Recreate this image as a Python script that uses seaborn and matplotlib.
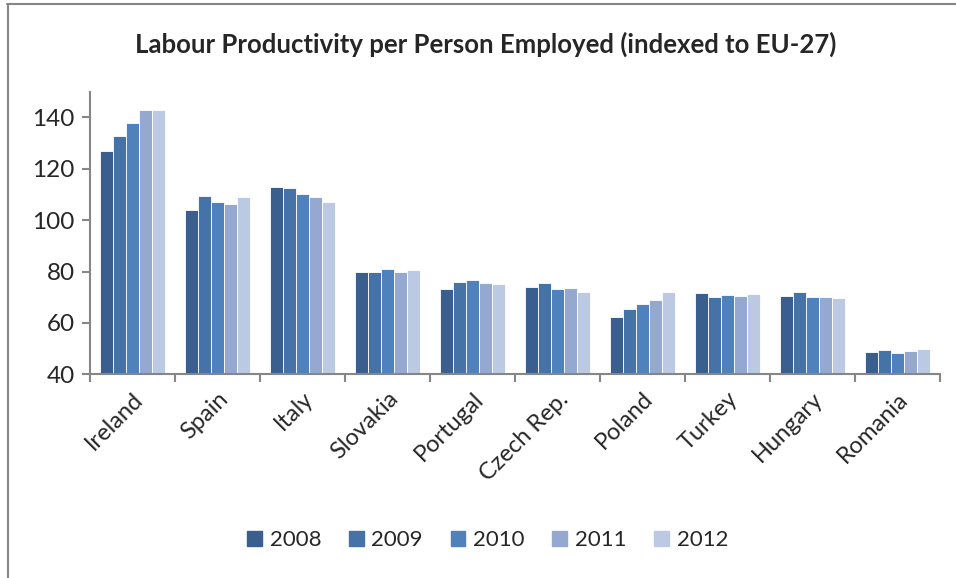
import matplotlib
matplotlib.use("Agg")
import matplotlib.pyplot as plt
import seaborn as sns
import pandas as pd
import numpy as np
from matplotlib.ticker import FixedLocator
from matplotlib.lines import Line2D

countries = ["Ireland", "Spain", "Italy", "Slovakia", "Portugal", "Czech Rep.",
             "Poland", "Turkey", "Hungary", "Romania"]
years = ["2008", "2009", "2010", "2011", "2012"]
v2008 = [126.9, 104.0, 112.8, 79.7, 73.2, 74.0, 62.2, 71.5, 70.3, 48.8]
v2009 = [132.7, 109.3, 112.4, 79.8, 75.9, 75.6, 65.3, 70.0, 72.1, 49.3]
v2010 = [137.7, 106.9, 110.0, 81.1, 76.7, 73.3, 67.2, 70.9, 70.2, 48.2]
v2011 = [142.7, 106.4, 108.9, 79.8, 75.5, 73.6, 68.9, 70.5, 70.2, 49.0]
v2012 = [142.7, 109.0, 106.9, 80.5, 75.0, 72.1, 72.0, 71.4, 69.6, 49.8]
series = [v2008, v2009, v2010, v2011, v2012]
colors = ["#3A5F8E", "#4572A7", "#4F81BD", "#95A9D0", "#BCC9E2"]

rows = []
for y, vals in zip(years, series):
    for c, v in zip(countries, vals):
        rows.append({"Country": c, "Year": y, "Value": v})
df = pd.DataFrame(rows)

sns.set_style("white")
plt.rcParams["font.family"] = ["Lato", "DejaVu Sans"]

fig = plt.figure(figsize=(9.56, 5.78), dpi=100)
ax = fig.add_axes([0.0941, 0.3524, 0.889, 0.4889])

sns.barplot(data=df, x="Country", y="Value", hue="Year", palette=colors,
            width=0.77, ax=ax, edgecolor="white", linewidth=0.6, saturation=1)

ax.set_ylim(40, 150)
ax.set_yticks([40, 60, 80, 100, 120, 140])
ax.set_xlim(-0.5, len(countries) - 0.5)
ax.set_xlabel("")
ax.set_ylabel("")

for s in ["top", "right"]:
    ax.spines[s].set_visible(False)
for s in ["left", "bottom"]:
    ax.spines[s].set_color("#868686")
    ax.spines[s].set_linewidth(1.5)

ax.tick_params(axis="y", which="major", length=6, width=1.5, color="#868686",
               labelsize=17.5, direction="out", left=True, pad=5)
ax.tick_params(axis="x", which="major", length=0, labelsize=17, pad=10)
ax.xaxis.set_minor_locator(FixedLocator(np.arange(-0.5, len(countries), 1.0)))
ax.tick_params(axis="x", which="minor", length=6, width=1.5, color="#868686",
               direction="out", bottom=True)
plt.setp(ax.get_xticklabels(), rotation=45, ha="right", rotation_mode="anchor")

ax.legend_.remove()
handles = [plt.Rectangle((0, 0), 1, 1, color=c) for c in colors]
fig.legend(handles, years, loc="center", bbox_to_anchor=(0.51, 0.066), ncol=5,
           frameon=False, fontsize=16, handlelength=0.66, handleheight=0.66,
           handletextpad=0.35, columnspacing=1.25)

fig.suptitle("Labour Productivity per Person Employed (indexed to EU-27)",
             x=0.508, y=0.945, fontsize=18.5, fontweight="bold")

gray = "#868686"
fig.add_artist(Line2D([7.5 / 956, 7.5 / 956], [0, 1 - 3.5 / 578],
                      transform=fig.transFigure, color=gray, linewidth=1.5))
fig.add_artist(Line2D([7 / 956, 1], [1 - 4 / 578, 1 - 4 / 578],
                      transform=fig.transFigure, color=gray, linewidth=1.5))

fig.savefig("out.png", dpi=100)
